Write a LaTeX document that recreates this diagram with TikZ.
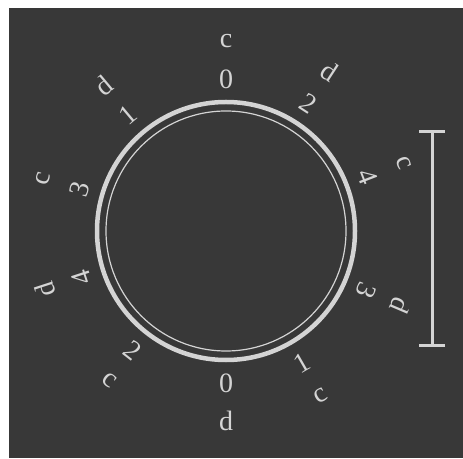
\documentclass[tikz,border=0pt]{standalone}
\usepackage{fontspec}
\setmainfont{Liberation Serif}
\usetikzlibrary{arrows.meta, calc}
\definecolor{board}{HTML}{383838}
\definecolor{chalk}{HTML}{D4D4D4}

\begin{document}
\begin{tikzpicture}[x=1pt, y=1pt,
    lbl/.style={text=chalk, font=\fontsize{28}{30}\selectfont, inner sep=0pt},
    ring/.style={draw=chalk, line width=4.5pt}]
  \useasboundingbox (0,0) rectangle (463,458);
  \fill[white] (0,0) rectangle (463,458);
  \fill[board] (9,0) rectangle (463,450);
  \coordinate (ctr) at (226,227);
  % the two rings
  \draw[ring] (ctr) circle[radius=129];
  \draw[chalk, line width=1.2pt] (ctr) circle[radius=120];
  % numbers and letters round the ring
  \foreach \ang/\num/\ltr/\rot [count=\i] in
      {90/0/c/0, 57/2/d/-33, 21/4/c/-69, -23/3/d/-113, -60/1/c/30,
       -90/0/d/0, -128/2/c/-38, 198/4/d/108, 164/3/c/74, 130/1/d/40}
  {
    \node[lbl, rotate=\rot] (num\i) at ($(ctr)+(\ang:152)$) {\num};
    \node[lbl, rotate=\rot] (ltr\i) at ($(ctr)+(\ang:190)$) {\ltr};
  }
  % scale bar
  \coordinate (bartop) at (432,328);
  \coordinate (barbot) at (432,111);
  \draw[chalk, line width=3pt, {Bar[width=26pt]}-{Bar[width=26pt]}] (bartop) -- (barbot);
\end{tikzpicture}
\end{document}
